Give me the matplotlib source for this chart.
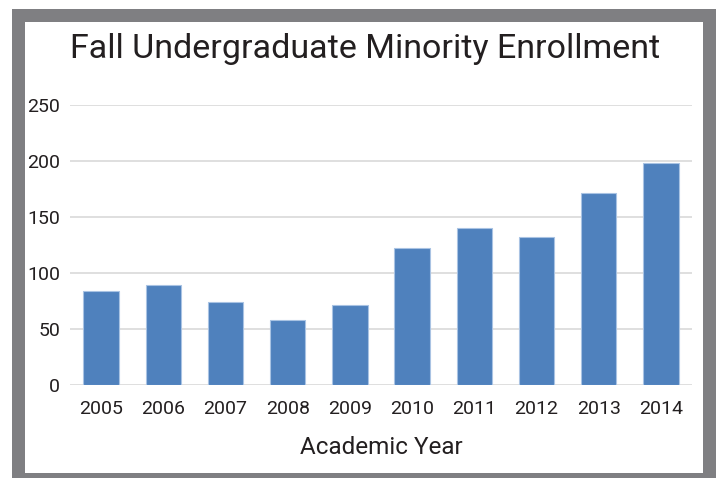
import matplotlib
matplotlib.use("Agg")
import matplotlib.pyplot as plt
from matplotlib.patches import Rectangle

# datos
years = ["2005", "2006", "2007", "2008", "2009", "2010", "2011", "2012", "2013", "2014"]
enrollment = [84, 89, 74, 58, 71, 122, 140, 132, 171, 198]
y_ticks = [0, 50, 100, 150, 200, 250]

plt.rcParams['font.family'] = ['Roboto', 'DejaVu Sans']
text_color = "#231f20"
W, H = 720, 478

fig = plt.figure(figsize=(7.2, 4.78), dpi=100)
fig.patch.set_facecolor("white")

# marco gris
fig.patches.append(Rectangle((12 / W, 0), (716 - 12) / W, 1 - 9 / H,
                             transform=fig.transFigure, facecolor="#7f7f82",
                             edgecolor="none", zorder=-3))
fig.patches.append(Rectangle((25 / W, 1 - 473 / H), (703 - 25) / W, (473 - 22) / H,
                             transform=fig.transFigure, facecolor="white",
                             edgecolor="none", zorder=-2))

ax = fig.add_axes([70 / W, 1 - 385 / H, (692 - 70) / W, (385 - 105) / H])
ax.patch.set_alpha(0)

x = range(len(years))
ax.bar(x, enrollment, width=0.57, color="#4f81bd", edgecolor="#a9c3e3",
       linewidth=0.8, zorder=3)

ax.set_xlim(-0.5, len(years) - 0.5)
ax.set_ylim(0, 250)
ax.set_yticks(y_ticks)
ax.set_xticks(list(x))
ax.set_xticklabels(years)
ax.yaxis.grid(True, color="#d9d9d9", linewidth=1.2, zorder=0)
ax.set_axisbelow(True)
for s in ax.spines.values():
    s.set_visible(False)
ax.tick_params(axis="both", length=0, labelsize=14, colors=text_color)
ax.tick_params(axis="x", pad=11)
ax.tick_params(axis="y", pad=7)

ax.set_xlabel("Academic Year", fontsize=17.5, color=text_color, labelpad=13)
fig.text(0.507, 1 - 49 / H, "Fall Undergraduate Minority Enrollment",
         ha="center", va="center", fontsize=24.5, color=text_color)

fig.savefig("out.png", dpi=100)
